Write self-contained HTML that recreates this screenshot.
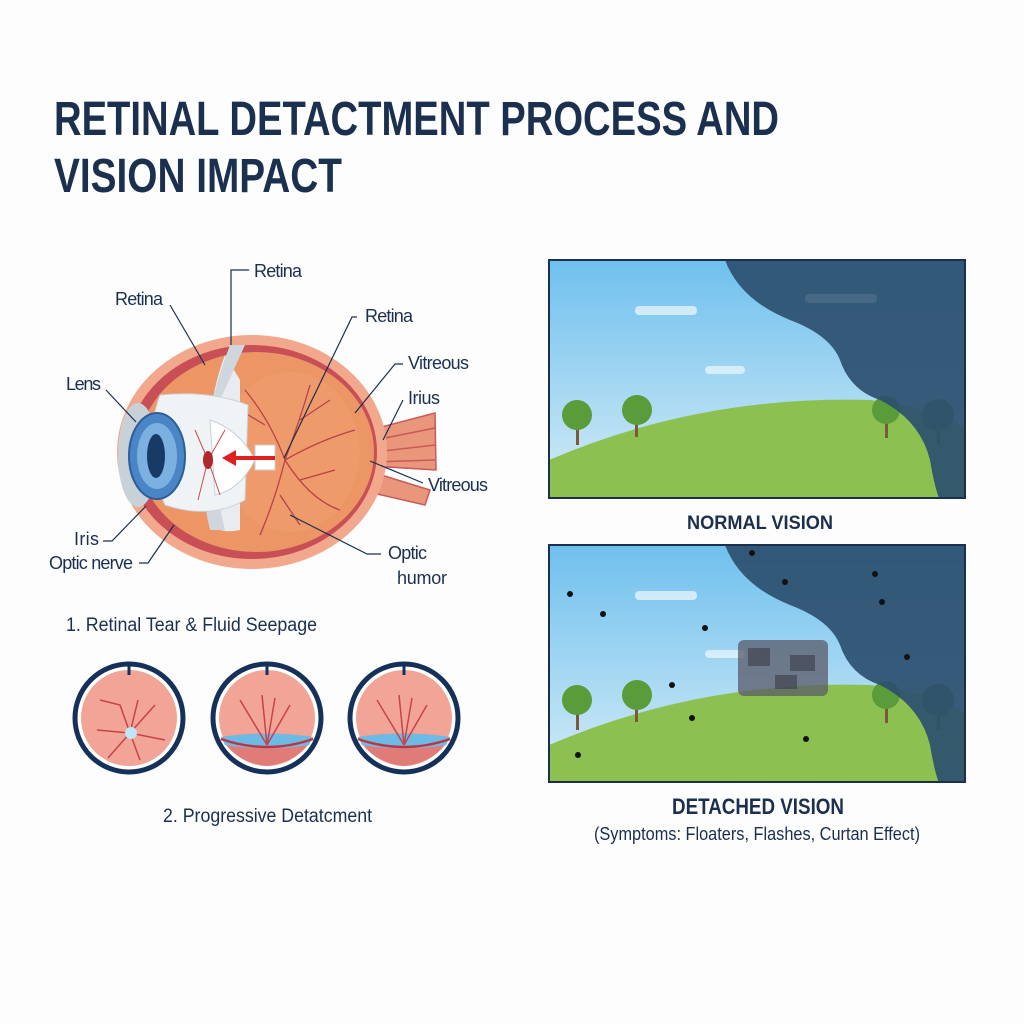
<!DOCTYPE html>
<html><head><meta charset="utf-8"><style>
body{margin:0;background:#fff;}
svg{display:block}
text{font-family:"Liberation Sans Narrow","Liberation Sans",sans-serif;}
</style></head><body>
<svg width="1024" height="1024" viewBox="0 0 1024 1024" xmlns="http://www.w3.org/2000/svg">
<defs>
<clipPath id="c1"><rect x="549" y="260" width="416" height="238"/></clipPath>
<clipPath id="c2"><rect x="549" y="545" width="416" height="237"/></clipPath>
<linearGradient id="sky" x1="0" y1="0" x2="0" y2="1"><stop offset="0" stop-color="#6fc0ee"/><stop offset="1" stop-color="#d4ecf6"/></linearGradient>
</defs>
<rect width="1024" height="1024" fill="#fdfdfd"/>
<text x="54" y="135" font-size="48" font-weight="bold" fill="#1b2f4f" textLength="725" lengthAdjust="spacingAndGlyphs">RETINAL DETACTMENT PROCESS AND</text>
<text x="54" y="192" font-size="48" font-weight="bold" fill="#1b2f4f" textLength="288" lengthAdjust="spacingAndGlyphs">VISION IMPACT</text>

<g fill="#e9967a" stroke="#c85a5a" stroke-width="1.5">
<path d="M370 430 L435 413 L436 470 L372 466 Z"/>
<path d="M365 470 L430 490 L425 505 L360 490 Z"/>
</g>
<g stroke="#c85a5a" stroke-width="1.5"><line x1="375" y1="440" x2="435" y2="428"/><line x1="375" y1="452" x2="435" y2="445"/><line x1="375" y1="462" x2="435" y2="460"/></g>
<ellipse cx="252" cy="452" rx="135" ry="117" fill="#f2a88c"/>
<ellipse cx="252" cy="452" rx="125" ry="107" fill="#c84f55"/>
<ellipse cx="256" cy="452" rx="118" ry="100" fill="#ec9565"/>
<ellipse cx="290" cy="452" rx="70" ry="80" fill="#f0a070" opacity=".5"/>
<g stroke="#b8424a" stroke-width="1.3" fill="none">
<path d="M285 460 Q270 420 245 390 M265 425 L240 410 M285 460 Q300 420 310 385 M300 420 L330 400 M285 460 Q320 440 355 430 M285 460 Q310 500 340 510 M285 460 Q275 500 260 535 M280 495 L300 525 M300 480 L335 470"/>
</g>
<path d="M225 355 Q200 420 210 520 Q215 535 240 530 L240 380 Z" fill="#e8ecf0"/>
<path d="M230 345 L245 345 L220 400 Q205 450 225 530 L210 530 Q190 450 230 345 Z" fill="#cfd6dd"/>
<path d="M160 395 Q140 450 165 505 Q210 520 245 500 L248 405 Q210 390 160 395Z" fill="#f0f3f6" stroke="#cad2da"/>
<path d="M210 420 Q240 430 255 460 Q240 490 215 495 Z" fill="#fff" stroke="#c9d0d8"/>
<g stroke="#d0474e" stroke-width="1" fill="none"><path d="M208 460 L195 430 M208 460 L225 430 M208 460 L220 495 M208 460 L198 500"/></g>
<ellipse cx="208" cy="460" rx="5" ry="9" fill="#b0282c"/>
<rect x="255" y="445" width="20" height="25" fill="#fff" stroke="#ccc"/>
<line x1="275" y1="458" x2="232" y2="458" stroke="#e02020" stroke-width="4"/>
<path d="M222 458 L236 450 L236 466Z" fill="#e02020"/>
<ellipse cx="138" cy="455" rx="20" ry="52" fill="#c8d0d8"/>
<ellipse cx="157" cy="456" rx="28" ry="43" fill="#4a86c6" stroke="#2c5e99" stroke-width="2"/>
<ellipse cx="157" cy="456" rx="20" ry="33" fill="#7cb0e0"/>
<ellipse cx="156" cy="456" rx="9" ry="22" fill="#173a66"/>
<g font-size="18" fill="#1b2f4f" lengthAdjust="spacingAndGlyphs">
<text x="254" y="277" textLength="48">Retina</text><text x="115" y="305" textLength="48">Retina</text><text x="365" y="322" textLength="48">Retina</text>
<text x="408" y="369" textLength="61">Vitreous</text><text x="408" y="404" textLength="32">Irius</text><text x="428" y="491" textLength="60">Vitreous</text>
<text x="66" y="390" textLength="35">Lens</text><text x="74" y="545" textLength="25">Iris</text><text x="49" y="569" textLength="84">Optic nerve</text>
<text x="388" y="559" textLength="39">Optic</text><text x="397" y="584" textLength="50">humor</text>
</g>
<g stroke="#1b2f4f" stroke-width="1.2" fill="none">
<path d="M249 270 H231 V345"/><path d="M170 305 L205 365"/><path d="M357 317 H352 L284 458"/>
<path d="M403 364 H395 L355 413"/><path d="M403 400 L383 440"/><path d="M370 461 L423 483"/>
<path d="M106 390 L136 422"/><path d="M103 541 H112 L146 506"/><path d="M139 563 H148 L174 525"/>
<path d="M381 554 H367 L290 515"/>
</g>
<text x="66" y="631" font-size="19" fill="#1b2f4f" textLength="251" lengthAdjust="spacingAndGlyphs">1. Retinal Tear &amp; Fluid Seepage</text>

<g>
<circle cx="129" cy="718" r="54" fill="#fff" stroke="#15315a" stroke-width="5"/>
<circle cx="129" cy="718" r="48" fill="#f2a597"/>
<line x1="129" y1="664" x2="129" y2="675" stroke="#15315a" stroke-width="3"/>
<g stroke="#c8424c" stroke-width="1.5" fill="none"><path d="M130 733 L120 705 L100 700 M130 733 L138 700 M130 733 L155 705 M130 733 L165 740 M130 733 L108 758 M130 733 L140 760 M130 733 L97 730"/></g>
<circle cx="131" cy="733" r="6" fill="#bfe6f7"/>
</g>
<g>
<circle cx="267" cy="718" r="54" fill="#fff" stroke="#15315a" stroke-width="5"/>
<circle cx="267" cy="718" r="48" fill="#f2a597"/>
<path d="M221 737 Q267 730 313 737 Q300 762 267 766 Q234 762 221 737Z" fill="#e07b78"/>
<path d="M221 737 Q267 730 313 737 L309 745 Q267 752 225 745Z" fill="#6bbbe6"/>
<path d="M221 739 Q267 755 313 739" stroke="#c0343e" stroke-width="2.5" fill="none"/>
<line x1="267" y1="664" x2="267" y2="675" stroke="#15315a" stroke-width="3"/>
<g stroke="#c8424c" stroke-width="1.5" fill="none"><path d="M267 745 L262 695 M267 745 L275 698 M267 745 L290 705 M267 745 L240 700"/></g>
</g>
<g>
<circle cx="404" cy="718" r="54" fill="#fff" stroke="#15315a" stroke-width="5"/>
<circle cx="404" cy="718" r="48" fill="#f2a597"/>
<path d="M358 737 Q404 730 450 737 Q437 762 404 766 Q371 762 358 737Z" fill="#e07b78"/>
<path d="M358 737 Q404 730 450 737 L446 745 Q404 752 362 745Z" fill="#6bbbe6"/>
<path d="M358 739 Q404 755 450 739" stroke="#c0343e" stroke-width="2.5" fill="none"/>
<line x1="404" y1="664" x2="404" y2="675" stroke="#15315a" stroke-width="3"/>
<g stroke="#c8424c" stroke-width="1.5" fill="none"><path d="M404 745 L399 695 M404 745 L412 698 M404 745 L427 705 M404 745 L377 700"/></g>
</g>
<text x="163" y="822" font-size="19" fill="#1b2f4f" textLength="209" lengthAdjust="spacingAndGlyphs">2. Progressive Detatcment</text>

<g clip-path="url(#c1)">
<rect x="549" y="260" width="416" height="238" fill="url(#sky)"/>
<rect x="635" y="306" width="62" height="9" rx="4" fill="#e4f3fb" opacity=".8"/>
<rect x="705" y="366" width="40" height="8" rx="4" fill="#e4f3fb" opacity=".8"/>
<path d="M549 460 Q700 395 870 400 Q950 410 980 440 V500 H549Z" fill="#8cc152"/>
<g fill="#7a5a3a"><rect x="576" y="420" width="3" height="25"/><rect x="635" y="415" width="3" height="22"/><rect x="885" y="410" width="3" height="28"/><rect x="937" y="415" width="3" height="30"/></g>
<g fill="#5a9c3a"><circle cx="577" cy="415" r="15"/><circle cx="637" cy="410" r="15"/><circle cx="886" cy="410" r="14"/><circle cx="938" cy="415" r="16"/></g>
<path d="M725 260 Q740 300 790 320 Q830 335 840 360 Q850 390 880 400 Q920 420 930 460 Q935 490 940 500 H966 V260Z" fill="#2d4f6f" opacity=".92"/>
<rect x="805" y="294" width="72" height="9" rx="4" fill="#5a7890" opacity=".5"/>
</g>
<rect x="549" y="260" width="416" height="238" fill="none" stroke="#1b2f4f" stroke-width="2"/>
<text x="760" y="529" font-size="19" font-weight="bold" fill="#1b2f4f" text-anchor="middle" textLength="146" lengthAdjust="spacingAndGlyphs">NORMAL VISION</text>

<g clip-path="url(#c2)">
<rect x="549" y="545" width="416" height="237" fill="url(#sky)"/>
<rect x="635" y="591" width="62" height="9" rx="4" fill="#e4f3fb" opacity=".8"/>
<rect x="705" y="650" width="40" height="8" rx="4" fill="#e4f3fb" opacity=".8"/>
<path d="M549 745 Q700 680 870 685 Q950 695 980 725 V785 H549Z" fill="#8cc152"/>
<g fill="#7a5a3a"><rect x="576" y="705" width="3" height="25"/><rect x="635" y="700" width="3" height="22"/><rect x="885" y="695" width="3" height="28"/><rect x="937" y="700" width="3" height="30"/></g>
<g fill="#5a9c3a"><circle cx="577" cy="700" r="15"/><circle cx="637" cy="695" r="15"/><circle cx="886" cy="695" r="14"/><circle cx="938" cy="700" r="16"/></g>
<path d="M725 545 Q740 585 790 605 Q830 620 840 645 Q850 675 880 685 Q920 705 930 745 Q935 775 940 785 H966 V545Z" fill="#2d4f6f" opacity=".92"/>
<rect x="738" y="640" width="90" height="56" rx="6" fill="#5a5a68" opacity=".75"/>
<g fill="#3c3c48" opacity=".6"><rect x="748" y="648" width="22" height="18"/><rect x="790" y="655" width="25" height="16"/><rect x="775" y="675" width="22" height="14"/></g>
<g fill="#111"><circle cx="570" cy="594" r="3"/><circle cx="603" cy="614" r="3"/><circle cx="705" cy="628" r="3"/><circle cx="752" cy="553" r="3"/><circle cx="785" cy="582" r="3"/><circle cx="875" cy="574" r="3"/><circle cx="882" cy="602" r="3"/><circle cx="907" cy="657" r="3"/><circle cx="672" cy="685" r="3"/><circle cx="692" cy="718" r="3"/><circle cx="806" cy="739" r="3"/><circle cx="578" cy="755" r="3"/></g>
</g>
<rect x="549" y="545" width="416" height="237" fill="none" stroke="#1b2f4f" stroke-width="2"/>
<text x="758" y="814" font-size="22" font-weight="bold" fill="#1b2f4f" text-anchor="middle" textLength="172" lengthAdjust="spacingAndGlyphs">DETACHED VISION</text>
<text x="757" y="840" font-size="18" fill="#1b2f4f" text-anchor="middle" textLength="326" lengthAdjust="spacingAndGlyphs">(Symptoms: Floaters, Flashes, Curtan Effect)</text>
</svg>
</body></html>
